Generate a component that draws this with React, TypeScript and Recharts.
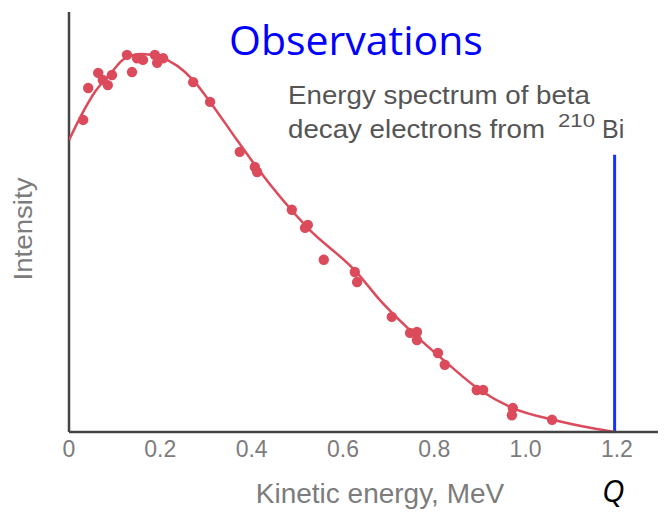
import React from 'react';
import { ComposedChart, Line, Scatter, XAxis, YAxis, ZAxis, ReferenceLine } from 'recharts';

// fitted spectrum curve (energy in MeV, relative intensity)
const curveE = [0, 0.024, 0.057, 0.09, 0.123, 0.16, 0.199, 0.272, 0.309, 0.368, 0.412, 0.521, 0.631, 0.681, 0.753, 0.828, 0.9, 0.972, 1.06, 1.156, 1.195];
const curveI = [0.695, 0.748, 0.81, 0.852, 0.89, 0.9, 0.893, 0.838, 0.786, 0.695, 0.629, 0.488, 0.379, 0.314, 0.236, 0.164, 0.1, 0.057, 0.029, 0.007, 0];

// measured points
const obsE = [0.031, 0.042, 0.064, 0.074, 0.085, 0.094, 0.127, 0.138, 0.149, 0.162, 0.188, 0.193, 0.206, 0.272, 0.309, 0.374, 0.407, 0.412, 0.488, 0.517, 0.523, 0.558, 0.626, 0.631, 0.707, 0.747, 0.762, 0.762, 0.808, 0.823, 0.893, 0.907, 0.972, 0.97, 1.058];
const obsI = [0.743, 0.819, 0.855, 0.838, 0.826, 0.85, 0.898, 0.857, 0.89, 0.886, 0.898, 0.879, 0.89, 0.833, 0.786, 0.667, 0.631, 0.619, 0.529, 0.486, 0.493, 0.41, 0.381, 0.357, 0.274, 0.236, 0.238, 0.219, 0.188, 0.16, 0.1, 0.1, 0.057, 0.04, 0.029];

const xTicks = [0, 0.2, 0.4, 0.6, 0.8, 1.0, 1.2];
const xTickLabels = ['0', '0.2', '0.4', '0.6', '0.8', '1.0', '1.2'];

const qEnergy = 1.195;
const qTop = 0.66;

const curve = curveE.map((E, i) => ({ E, I: curveI[i] }));
const points = obsE.map((E, i) => ({ E, I: obsI[i] }));

const RED = '#dc4b5b';
const AXIS = '#444';
const GRAY = '#7c7c7c';
const SANS = 'Liberation Sans, Arial, sans-serif';

const App: React.FC = () => {
    return (
        <div style={{ position: 'absolute', left: 0, top: 0, width: 664, height: 512, background: '#fff' }}>
            <ComposedChart width={664} height={512} margin={{ top: 12, right: 6, left: 69, bottom: 50 }}>
                <XAxis
                    type="number"
                    dataKey="E"
                    domain={[0, 1.29]}
                    ticks={xTicks}
                    tickFormatter={(v: number) => xTickLabels[xTicks.indexOf(v)] ?? ''}
                    height={30}
                    tickLine={false}
                    tickMargin={3}
                    axisLine={{ stroke: AXIS, strokeWidth: 2.5 }}
                    tick={{ fill: GRAY, fontSize: 23, fontFamily: SANS }}
                    allowDataOverflow
                />
                <YAxis type="number" dataKey="I" domain={[0, 1]} width={0} tick={false} tickLine={false} axisLine={false} />
                <ZAxis range={[85, 85]} />
                <ReferenceLine x={0} stroke={AXIS} strokeWidth={2.5} />
                <ReferenceLine
                    segment={[{ x: qEnergy, y: 0 }, { x: qEnergy, y: qTop }]}
                    stroke="#1533ff"
                    strokeWidth={3}
                />
                <Line data={curve} dataKey="I" type="monotone" stroke={RED} strokeWidth={2.5} dot={false} isAnimationActive={false} />
                <Scatter data={points} dataKey="I" fill={RED} isAnimationActive={false} />
            </ComposedChart>
            <svg width={664} height={512} style={{ position: 'absolute', left: 0, top: 0, pointerEvents: 'none' }}>
                <text x={229} y={55} fill="#0000ff" fontSize={41} fontFamily="Open Sans, sans-serif">Observations</text>
                <g fill="#555" fontSize={25} fontFamily={SANS}>
                    <text x={288} y={104} textLength={302} lengthAdjust="spacingAndGlyphs">Energy spectrum of beta</text>
                    <text x={288} y={138} textLength={257} lengthAdjust="spacingAndGlyphs">decay electrons from</text>
                    <text x={558} y={127} fontSize={18} textLength={37} lengthAdjust="spacingAndGlyphs">210</text>
                    <text x={602} y={138}>Bi</text>
                </g>
                <text x={380} y={503} textAnchor="middle" fill={GRAY} fontSize={28} fontFamily={SANS}>Kinetic energy, MeV</text>
                <text x={32} y={229} textAnchor="middle" fill={GRAY} fontSize={25} fontFamily={SANS} transform="rotate(-90 32 229)" textLength={103} lengthAdjust="spacingAndGlyphs">Intensity</text>
                <text x={602} y={502} fill="#000" fontSize={31} fontStyle="italic" fontFamily="Open Sans, sans-serif">Q</text>
            </svg>
        </div>
    );
};

export default App;
